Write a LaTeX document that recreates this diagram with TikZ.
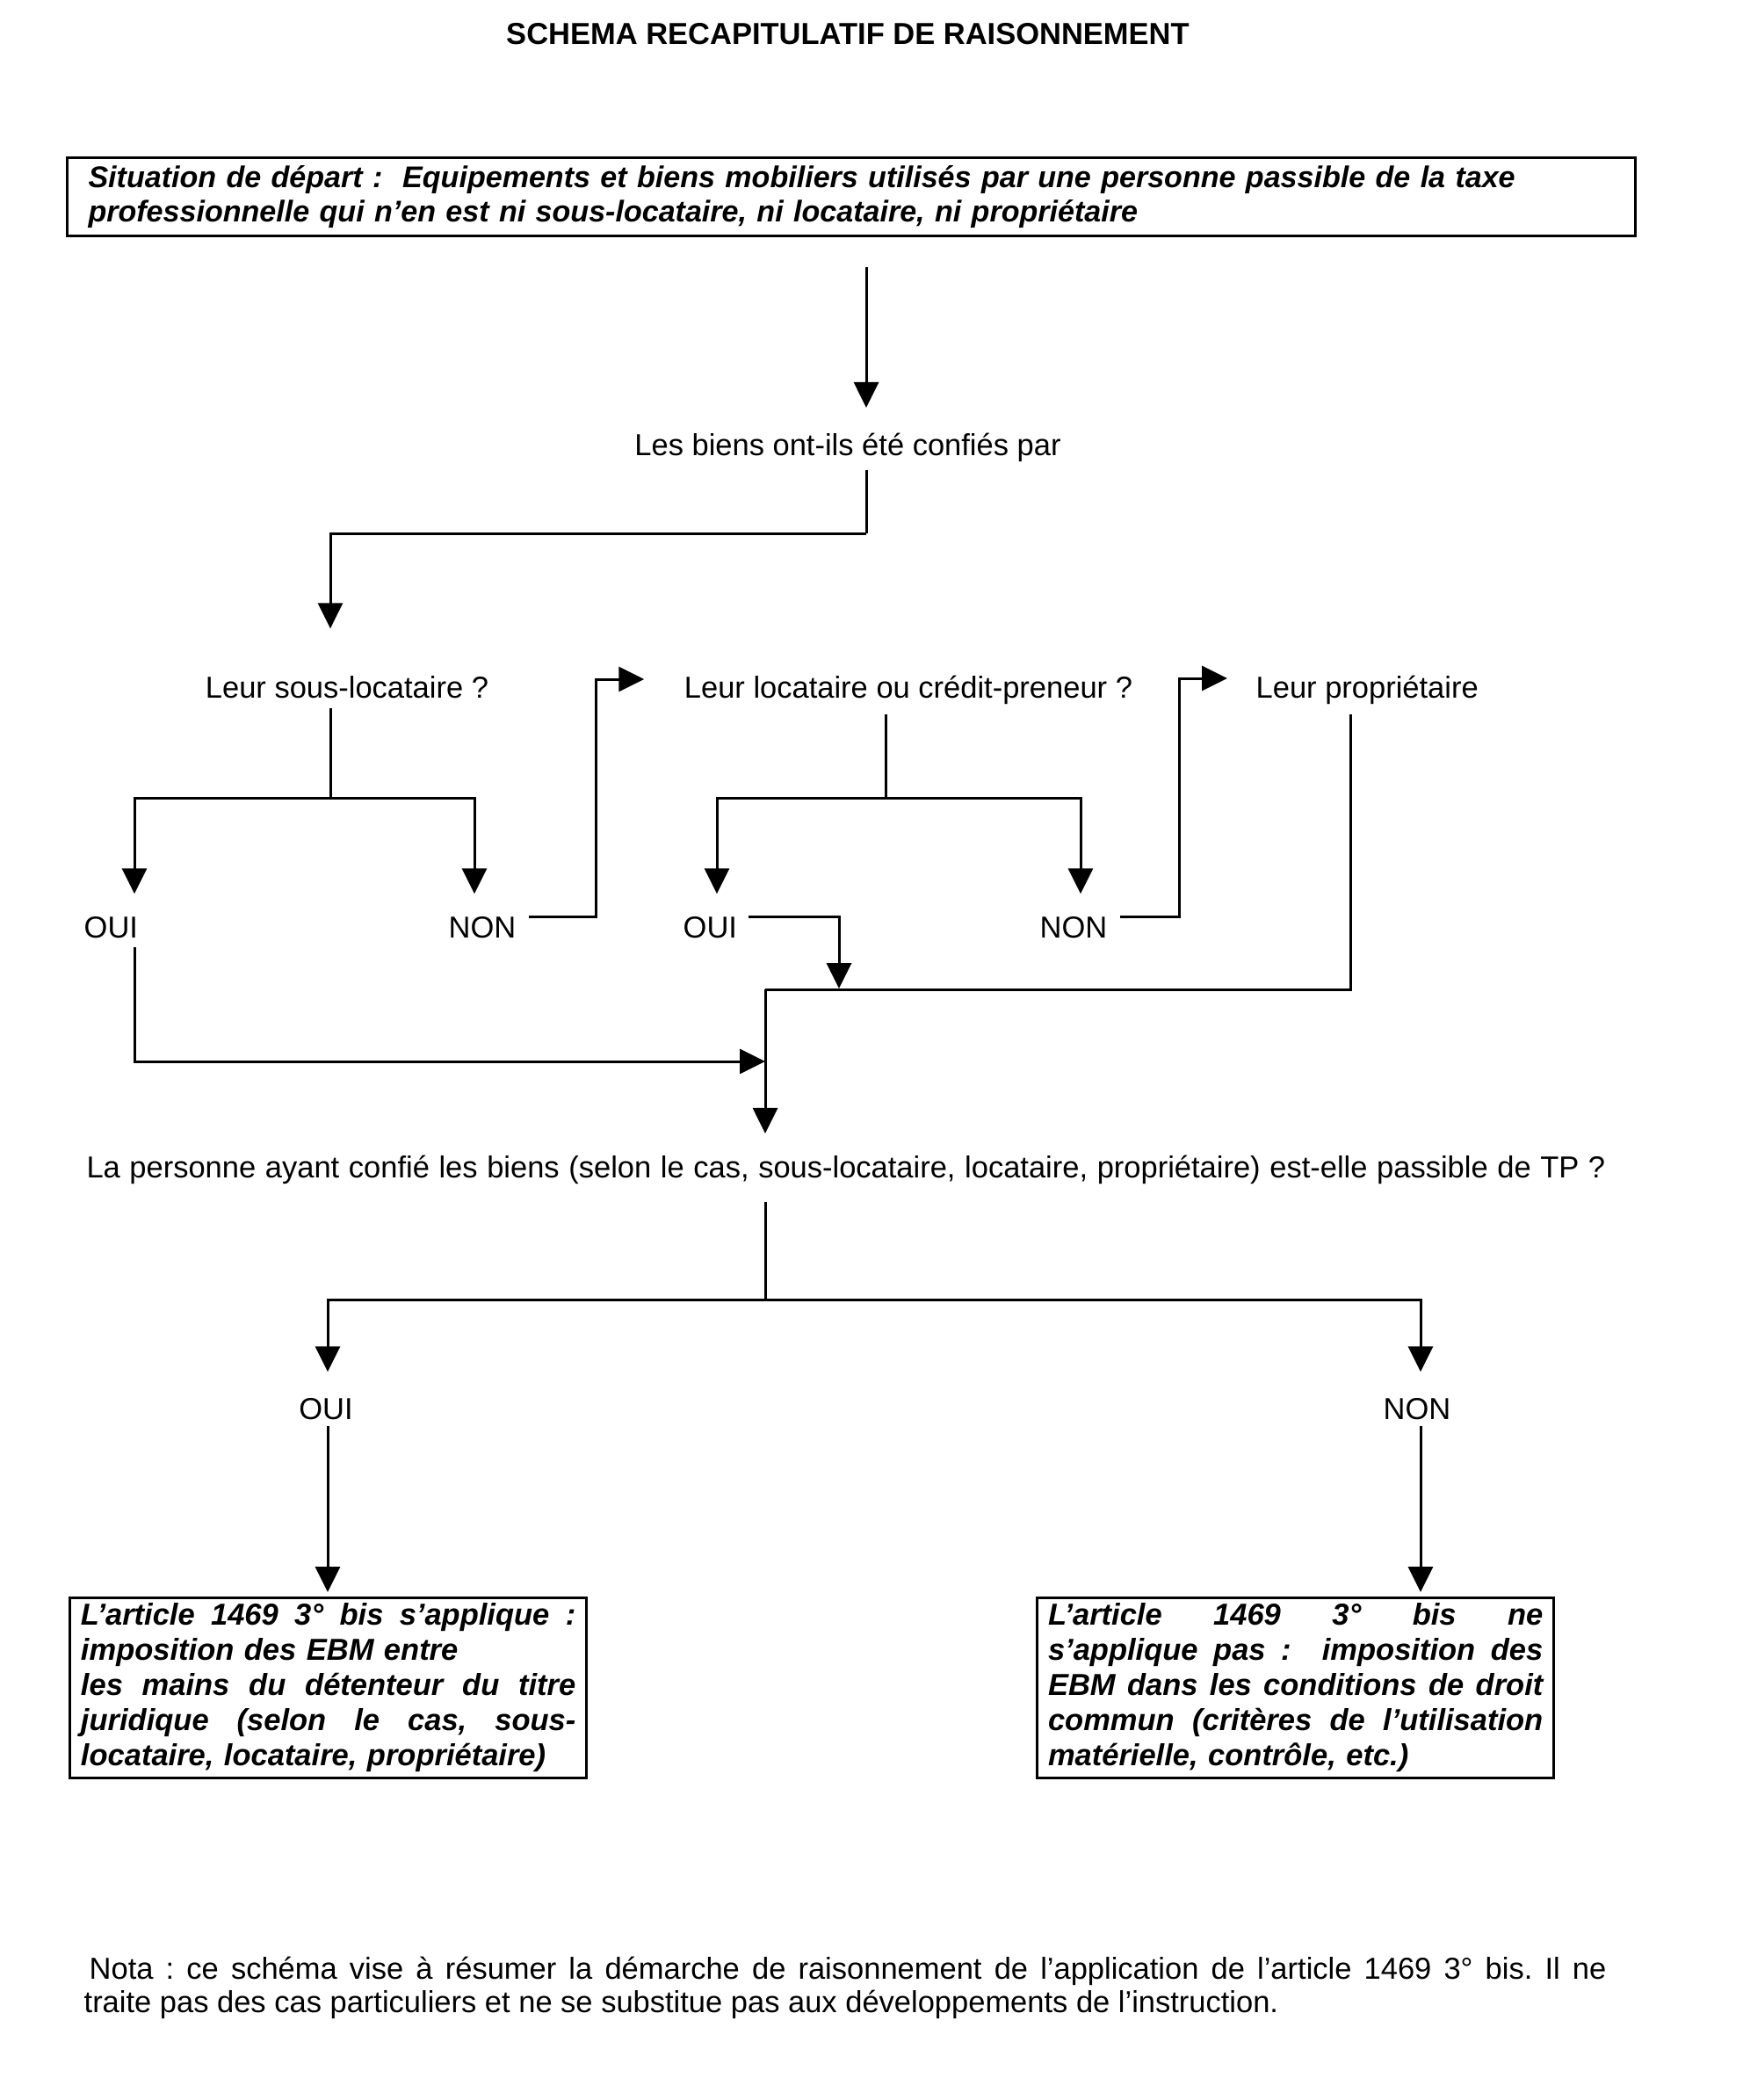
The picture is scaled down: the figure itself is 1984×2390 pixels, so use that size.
\documentclass[tikz,border=0pt]{standalone}
\usepackage{fontspec}
\setmainfont{Liberation Sans}
\usetikzlibrary{arrows.meta,calc}
\frenchspacing
\begin{document}
\begin{tikzpicture}[x=0.3pt,y=-0.3pt,
  txt/.style={inner sep=0pt, font=\fontsize{10.35pt}{12pt}\selectfont, anchor=base},
  ln/.style={line width=0.9pt, line join=miter},
  arr/.style={line width=0.9pt, line join=miter, -{Triangle[length=8.7pt,width=8.4pt]}},
  framebox/.style={draw, line width=0.9pt, anchor=north west, inner ysep=0pt,
     font=\fontsize{10.35pt}{12pt}\bfseries\itshape\selectfont, align=left}
]
\useasboundingbox (0,0) rectangle (1984,2390);
\newcommand\jline[1]{{\spaceskip=0pt\xspaceskip=0pt\makebox[169pt][s]{#1}}}

% title
\node[txt, font=\fontsize{10.35pt}{12pt}\bfseries\selectfont] (title) at (965,50) {SCHEMA RECAPITULATIF DE RAISONNEMENT};

% starting box
\node[framebox, text width=521pt, inner xsep=7.2pt, minimum height=26.7pt,
      font=\fontsize{10.22pt}{11.7pt}\bfseries\itshape\selectfont] (start) at (75,178)
 {Situation de départ :\ \ Equipements et biens mobiliers utilisés par une personne passible de la taxe\\
  professionnelle qui n’en est ni sous-locataire, ni locataire, ni propriétaire};

\node[txt] (biens) at (965,518) {Les biens ont-ils été confiés par};

\node[txt] (sousloc) at (395,794) {Leur sous-locataire ?};
\node[txt] (locat) at (1034,794) {Leur locataire ou crédit-preneur ?};
\node[txt, anchor=base west] (propr) at (1429,794) {Leur propriétaire};

\node[txt, anchor=base west] (oui1) at (95,1067) {OUI};
\node[txt, anchor=base west] (non1) at (510,1067) {NON};
\node[txt, anchor=base west] (oui2) at (777,1067) {OUI};
\node[txt, anchor=base west] (non2) at (1183,1067) {NON};

\node[txt] (personne) at (963,1340) {\makebox[518.7pt][s]{La personne ayant confié les biens (selon le cas, sous-locataire, locataire, propriétaire) est-elle passible de TP ?}};

\node[txt] (oui3) at (371,1615) {OUI};
\node[txt] (non3) at (1613,1615) {NON};

\node[framebox, text width=169pt, inner xsep=3.75pt, minimum height=61.5pt] (resoui) at (78,1817)
 {\jline{L’article 1469 3° bis s’applique :}\\
  imposition des EBM entre\\
  \jline{les mains du détenteur du titre}\\
  \jline{juridique (selon le cas, sous-}\\
  locataire, locataire, propriétaire)};

\node[framebox, text width=169pt, inner xsep=3.75pt, minimum height=61.5pt] (resnon) at (1179,1817)
 {\jline{L’article 1469 3° bis ne}\\
  \jline{s’applique pas :\ \ imposition des}\\
  \jline{EBM dans les conditions de droit}\\
  \jline{commun (critères de l’utilisation}\\
  matérielle, contrôle, etc.)};

\node[txt, anchor=base west] (nota1) at (101,2252) {\makebox[518.1pt][s]{Nota : ce schéma vise à résumer la démarche de raisonnement de l’application de l’article 1469 3° bis. Il ne}};
\node[txt, anchor=base west] (nota2) at (95,2290) {traite pas des cas particuliers et ne se substitue pas aux développements de l’instruction.};

% junction and end coordinates
\coordinate (jA) at (986,607);
\coordinate (jB) at (376,908);
\coordinate (jC) at (1008,908);
\coordinate (jD) at (871,1126);
\coordinate (jE) at (871,1479);
\coordinate (kN1) at (678,1043);
\coordinate (kN2) at (1342,1043);
\coordinate (kO2) at (955,1043);
\coordinate (kO1) at (153,1208);
\coordinate (kP) at (1537,1126);

% connectors
\draw[arr] ($(start.south -| 986,0)+(0,34)$) -- ($(biens.north -| 986,0)+(0,-28)$);
\draw[ln] ($(biens.south -| 986,0)+(0,9)$) -- (jA);
\draw[arr] (jA) -| ($(sousloc.north -| 376,0)+(0,-53)$);

\draw[ln] ($(sousloc.south -| jB)+(0,11)$) -- (jB);
\draw[arr] (jB) -| ($(oui1.north -| 153,0)+(0,-25)$);
\draw[arr] (jB) -| ($(non1.north -| 540,0)+(0,-25)$);

\draw[arr] ($(non1.east |- kN1)+(14,0)$) -- (kN1) |- ($(locat.west |- 0,773)+(-45,0)$);

\draw[ln] ($(locat.south -| jC)+(0,11)$) -- (jC);
\draw[arr] (jC) -| ($(oui2.north -| 816,0)+(0,-25)$);
\draw[arr] (jC) -| ($(non2.north -| 1230,0)+(0,-25)$);

\draw[arr] ($(non2.east |- kN2)+(14,0)$) -- (kN2) |- ($(propr.west |- 0,772)+(-32,0)$);

\draw[arr] ($(oui2.east |- kO2)+(12,0)$) -- (kO2) -- ($(jD -| kO2)+(0,-1)$);

\draw[ln] ($(propr.south -| kP)+(0,11)$) -- (kP) -- (jD);
\draw[arr] (jD) -- ($(personne.north -| jD)+(0,-24)$);

\draw[arr] ($(oui1.south -| kO1)+(0,10)$) -- (kO1) -- (kO1 -| jD);

\draw[ln] ($(personne.south -| jE)+(0,20)$) -- (jE);
\draw[arr] (jE) -| ($(oui3.north -| 373,0)+(0,-29)$);
\draw[arr] (jE) -| ($(non3.north -| 1617,0)+(0,-29)$);

\draw[arr] ($(oui3.south -| 373,0)+(0,7)$) -- ($(resoui.north -| 373,0)+(0,-5)$);
\draw[arr] ($(non3.south -| 1617,0)+(0,7)$) -- ($(resnon.north -| 1617,0)+(0,-5)$);
\end{tikzpicture}
\end{document}
